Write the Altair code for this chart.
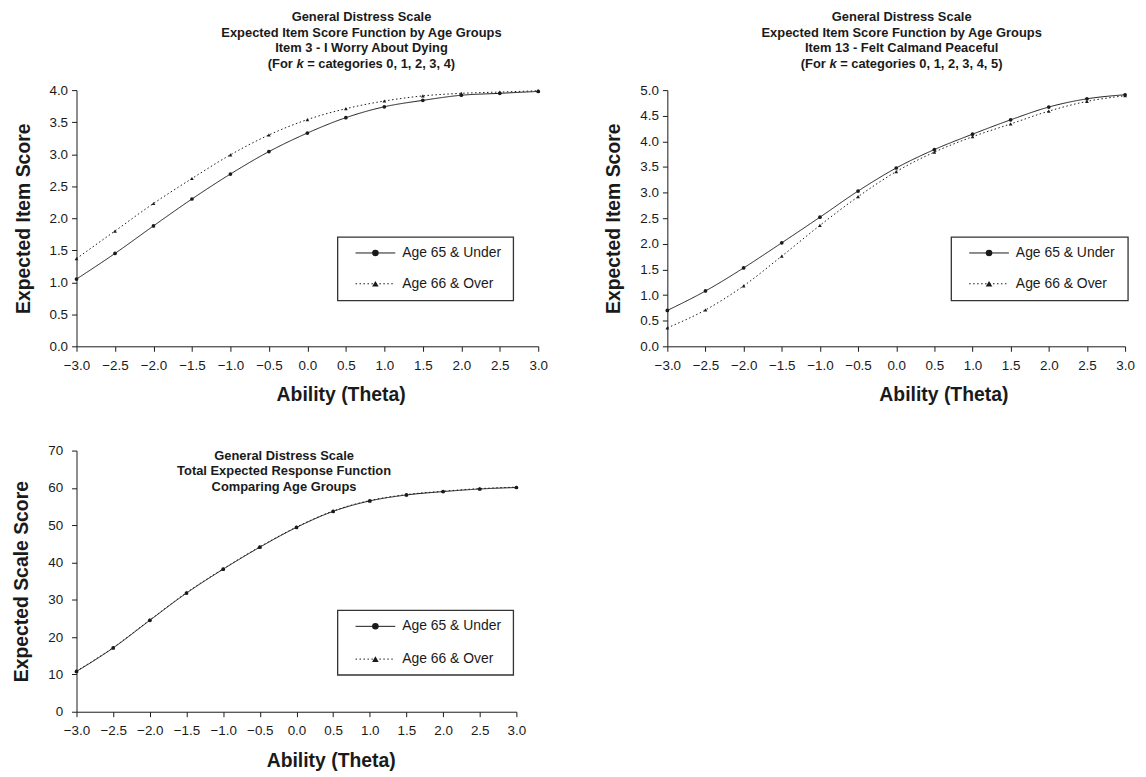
import altair as alt
import pandas as pd

# ---------------- data ----------------
theta = [-3.0, -2.5, -2.0, -1.5, -1.0, -0.5, 0.0, 0.5, 1.0, 1.5, 2.0, 2.5, 3.0]
series_names = ["Age 65 & Under", "Age 66 & Over"]

item3_under = [1.05, 1.45, 1.88, 2.30, 2.69, 3.04, 3.33, 3.57, 3.74, 3.84, 3.92, 3.95, 3.98]
item3_over = [1.37, 1.80, 2.23, 2.62, 2.99, 3.30, 3.54, 3.71, 3.83, 3.91, 3.95, 3.97, 3.99]

item13_under = [0.70, 1.08, 1.53, 2.02, 2.52, 3.03, 3.48, 3.84, 4.14, 4.42, 4.67, 4.83, 4.91]
item13_over = [0.36, 0.71, 1.18, 1.76, 2.36, 2.92, 3.41, 3.79, 4.09, 4.34, 4.59, 4.78, 4.89]

total_under = [10.8, 17.1, 24.5, 31.8, 38.2, 44.1, 49.4, 53.7, 56.5, 58.1, 59.0, 59.7, 60.1]
total_over = [10.9, 17.2, 24.6, 31.9, 38.3, 44.2, 49.5, 53.8, 56.6, 58.2, 59.1, 59.8, 60.2]

yticks_item3 = [0.0, 0.5, 1.0, 1.5, 2.0, 2.5, 3.0, 3.5, 4.0]
yticks_item13 = [0.0, 0.5, 1.0, 1.5, 2.0, 2.5, 3.0, 3.5, 4.0, 4.5, 5.0]
yticks_total = [0, 10, 20, 30, 40, 50, 60, 70]

title_item3 = ["General Distress Scale",
               "Expected Item Score Function by Age Groups",
               "Item 3 - I Worry About Dying"]
k_line_item3 = ["(For", "k", "= categories 0, 1, 2, 3, 4)"]
title_item13 = ["General Distress Scale",
                "Expected Item Score Function by Age Groups",
                "Item 13 - Felt Calmand Peaceful"]
k_line_item13 = ["(For", "k", "= categories 0, 1, 2, 3, 4, 5)"]
title_total = ["General Distress Scale",
               "Total Expected Response Function",
               "Comparing Age Groups"]

x_title = "Ability (Theta)"
y_title_item = "Expected Item Score"
y_title_total = "Expected Scale Score"

# ---------------- style ----------------
FONT = "Liberation Sans"
INK = "#1a1a1a"
TFS = 13  # panel title font size
dash_range = [[1, 0], [1.5, 2.5]]
shape_range = ["circle", "triangle-up"]

# Arial/Liberation Sans Bold advance widths (per 1000 em) for placing the italic k
_W = {" ": 278, "(": 333, ")": 333, ",": 278, "=": 584, "F": 611, "o": 611, "r": 389,
      "c": 556, "a": 556, "t": 333, "e": 556, "g": 611, "i": 278, "s": 556, "k": 556}


def text_w(s, fs=TFS):
    return sum(_W.get(ch, 556) for ch in s) * fs / 1000.0


def text_layer(txt, x, y, align="center", style="normal"):
    return alt.Chart(pd.DataFrame({"t": [txt]})).mark_text(
        align=align, baseline="middle", font=FONT, fontSize=TFS, fontWeight="bold",
        fontStyle=style, color=INK).encode(x=alt.value(x), y=alt.value(y), text="t:N")


def title_layers(lines, cx, ys, k_parts=None):
    out = [text_layer(t, cx, y) for t, y in zip(lines, ys)]
    if k_parts is not None:
        y = ys[len(lines)]
        a, k, b = k_parts
        sp = text_w(" ")
        total = text_w(a) + sp + text_w(k) + sp + text_w(b)
        kx = cx - total / 2 + text_w(a) + sp + text_w(k) / 2
        out.append(text_layer(a, kx - text_w(k) / 2 - sp, y, align="right"))
        out.append(text_layer(k, kx, y, style="italic"))
        out.append(text_layer(b, kx + text_w(k) / 2 + sp, y, align="left"))
    return out


def make_panel(under, over, yticks, yfmt, ytitle, width, height,
               legend_box, xtitle_x, xtitle_pad, title_lines, title_cx, title_ys,
               k_parts=None, label_pad=4, row_gap=31):
    df = pd.DataFrame({
        "theta": theta + theta,
        "score": under + over,
        "series": [series_names[0]] * len(theta) + [series_names[1]] * len(theta),
    })
    x = alt.X("theta:Q",
              scale=alt.Scale(domain=[-3, 3], nice=False, zero=False),
              axis=alt.Axis(values=theta, format=".1f", title=x_title,
                            titleX=xtitle_x, titlePadding=xtitle_pad, labelPadding=7,
                            labelOverlap=False, labelFlush=False))
    y = alt.Y("score:Q",
              scale=alt.Scale(domain=[yticks[0], yticks[-1]], nice=False),
              axis=alt.Axis(values=yticks, format=yfmt, title=ytitle,
                            labelPadding=label_pad, titlePadding=16,
                            labelOverlap=False, labelFlush=False))
    base = alt.Chart(df)
    lines = base.mark_line(interpolate="monotone", strokeWidth=1, color=INK).encode(
        x=x, y=y,
        strokeDash=alt.StrokeDash("series:N",
                                  scale=alt.Scale(domain=series_names, range=dash_range),
                                  legend=None),
        detail="series:N",
    )
    pts = base.mark_point(filled=True, opacity=1, color=INK, size=14, strokeWidth=0).encode(
        x=x, y=y,
        shape=alt.Shape("series:N",
                        scale=alt.Scale(domain=series_names, range=shape_range),
                        legend=None),
    )
    layers = [lines, pts]

    one = pd.DataFrame({"k": [0]})
    bx0, bx1, by0, by1 = legend_box
    layers.append(
        alt.Chart(one).mark_rect(fill="white", stroke="#333333", strokeWidth=1.3).encode(
            x=alt.value(bx0), x2=alt.value(bx1), y=alt.value(by0), y2=alt.value(by1))
    )
    for i, name in enumerate(series_names):
        yy = by0 + 16 + row_gap * i
        rule_kw = dict(color=INK, strokeWidth=1)
        if i == 1:
            rule_kw["strokeDash"] = dash_range[1]
        layers.append(
            alt.Chart(one).mark_rule(**rule_kw).encode(
                x=alt.value(bx0 + 18), x2=alt.value(bx0 + 58), y=alt.value(yy))
        )
        layers.append(
            alt.Chart(one).mark_point(shape=shape_range[i], filled=True, opacity=1,
                                      color=INK, size=44, strokeWidth=0).encode(
                x=alt.value(bx0 + 38), y=alt.value(yy))
        )
        layers.append(
            alt.Chart(one).mark_text(align="left", baseline="middle", font=FONT,
                                     fontSize=14, color=INK).encode(
                x=alt.value(bx0 + 65), y=alt.value(yy), text=alt.value(name))
        )

    layers += title_layers(title_lines, title_cx, title_ys, k_parts)
    return alt.layer(*layers).properties(width=width, height=height)


top_ys = [-74, -58, -42, -26]
p1 = make_panel(item3_under, item3_over, yticks_item3, ".1f", y_title_item,
                465, 258, legend_box=(263, 440, 148, 212), xtitle_x=266, xtitle_pad=14,
                title_lines=title_item3, title_cx=287, title_ys=top_ys,
                k_parts=k_line_item3)
p2 = make_panel(item13_under, item13_over, yticks_item13, ".1f", y_title_item,
                461, 258, legend_box=(286, 464, 148, 212), xtitle_x=278, xtitle_pad=14,
                title_lines=title_item13, title_cx=236, title_ys=top_ys,
                k_parts=k_line_item13)
p3 = make_panel(total_under, total_over, yticks_total, "d", y_title_total,
                443, 263, legend_box=(263, 440, 161, 226), xtitle_x=256, xtitle_pad=15,
                title_lines=title_total, title_cx=209, title_ys=[5, 21, 37],
                label_pad=9, row_gap=33)

chart = alt.vconcat(
    alt.hconcat(p1, p2, spacing=56),
    p3,
    spacing=40,
).configure(
    font=FONT,
    background="white",
    padding={"left": 3, "top": 0, "right": 3, "bottom": 0},
).configure_view(
    stroke=None
).configure_axis(
    grid=False,
    domainColor=INK,
    domainWidth=1,
    tickColor=INK,
    tickSize=5,
    labelFont=FONT,
    labelFontSize=13.5,
    labelColor=INK,
    titleFont=FONT,
    titleFontSize=19.5,
    titleFontWeight="bold",
    titleColor=INK,
)

chart.save("out.html", embed_options={"renderer": "svg", "actions": False})
